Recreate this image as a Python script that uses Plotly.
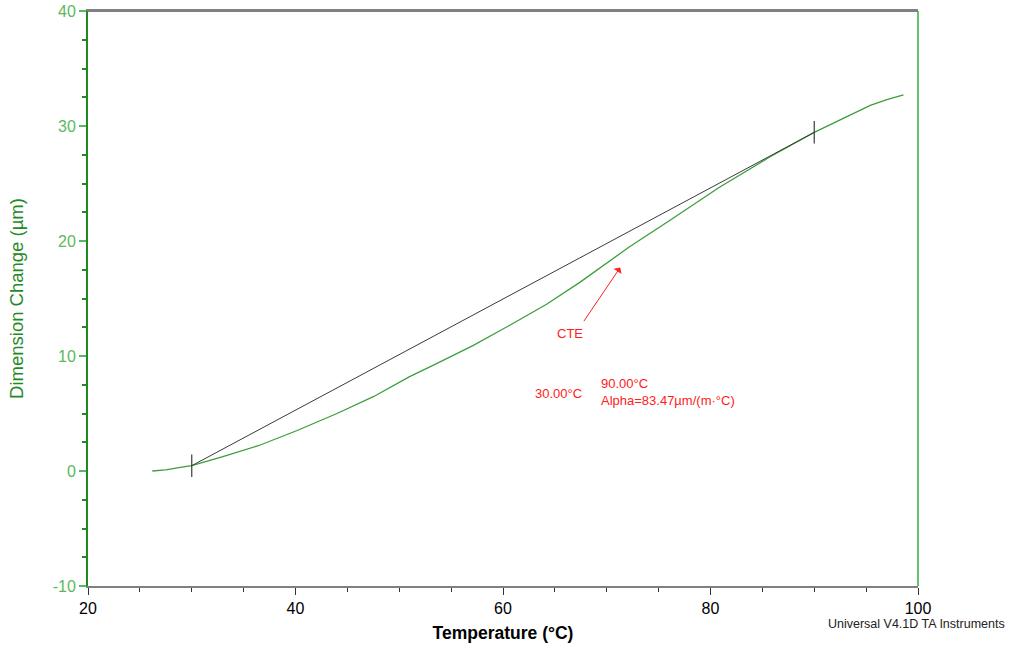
import plotly.graph_objects as go

# Dimension change curve
temp_c = [26.2, 27.5, 28.9, 30.0, 33.0, 36.6, 40.1, 44.0, 47.5, 51.0, 53.3, 57.1,
          60.7, 64.2, 67.4, 70.0, 72.2, 76.1, 80.9, 85.7, 88.9, 90.0, 93.1,
          95.4, 97.0, 98.6]
dim_um = [0.0, 0.1, 0.32, 0.46, 1.24, 2.26, 3.5, 5.0, 6.46, 8.2, 9.2, 10.9,
          12.7, 14.5, 16.4, 18.1, 19.5, 21.8, 24.7, 27.3, 28.9, 29.45, 30.8,
          31.8, 32.3, 32.7]

# CTE tangent between analysis limits
cte_temp = [30.0, 90.0]
cte_dim = [0.46, 29.45]

x_ticks = [20, 40, 60, 80, 100]
y_ticks = [-10, 0, 10, 20, 30, 40]

GREEN_DARK = "#1f8a1f"
GREEN_LABEL = "#5cb85c"
GREEN_RIGHT = "#66c266"
GRAY = "#808080"
FONT = "Liberation Sans, Arial, sans-serif"

W, H = 1012, 645
L, T = 88, 11
plot_w, plot_h = 830, 575
R = W - L - plot_w
B = H - T - plot_h

fig = go.Figure()
fig.add_trace(go.Scatter(x=temp_c, y=dim_um, mode="lines",
                         line=dict(color="#3c9e3c", width=1.3),
                         showlegend=False, hoverinfo="skip"))
fig.add_trace(go.Scatter(x=cte_temp, y=cte_dim, mode="lines+markers",
                         line=dict(color="#3a3a3a", width=1),
                         marker=dict(symbol="line-ns-open", size=16,
                                     line=dict(color="#3a3a3a", width=1.2)),
                         showlegend=False, hoverinfo="skip"))

fig.update_layout(
    width=W, height=H,
    margin=dict(l=L, r=R, t=T, b=B, autoexpand=False),
    paper_bgcolor="white", plot_bgcolor="white",
    font=dict(family=FONT),
    xaxis=dict(range=[20, 100], tickvals=x_ticks, ticktext=[str(v) for v in x_ticks],
               ticks="outside", ticklen=7, tickcolor="#333333", tickwidth=1,
               minor=dict(dtick=5, tick0=20, ticks="outside", ticklen=4, tickcolor="#333333"),
               showline=True, linecolor=GRAY, linewidth=2, mirror=True,
               showgrid=False, zeroline=False, automargin=False,
               tickfont=dict(size=16, color="black", family=FONT),
               title=dict(text="<b>Temperature (°C)</b>", font=dict(size=17.5, color="black", family=FONT),
                          standoff=11)),
    yaxis=dict(range=[-10, 40], tickvals=y_ticks, ticktext=[str(v) for v in y_ticks],
               ticks="outside", ticklen=7, tickcolor=GREEN_LABEL, tickwidth=2,
               minor=dict(dtick=2.5, tick0=0, ticks="outside", ticklen=4, tickcolor=GREEN_DARK),
               showline=True, linecolor=GREEN_DARK, linewidth=2, mirror=False,
               showgrid=False, zeroline=False, automargin=False,
               tickfont=dict(size=16, color=GREEN_LABEL, family=FONT),
               title=dict(text="Dimension Change (µm)", font=dict(size=18.5, color=GREEN_DARK, family=FONT),
                          standoff=24)),
    shapes=[
        dict(type="line", xref="paper", yref="paper", x0=1, x1=1, y0=0, y1=1,
             line=dict(color=GREEN_RIGHT, width=2)),
        dict(type="line", xref="paper", yref="paper", x0=0, x1=1, y0=1, y1=1,
             line=dict(color=GRAY, width=2)),
    ],
    annotations=[
        dict(x=71.3, y=17.7, ax=67.7, ay=12.9, xref="x", yref="y", axref="x", ayref="y",
             text="", showarrow=True, arrowhead=1, arrowsize=1.6, arrowwidth=1,
             arrowcolor="#ff2020"),
        dict(x=66.5, y=12.0, xref="x", yref="y", text="CTE", showarrow=False,
             font=dict(size=13, color="#ff2020", family=FONT)),
        dict(x=62.9, y=6.7, xref="x", yref="y", text="30.00°C", showarrow=False,
             xanchor="left", font=dict(size=13, color="#ff2020", family=FONT)),
        dict(x=69.3, y=6.9, xref="x", yref="y", text="90.00°C<br>Alpha=83.47µm/(m·°C)",
             showarrow=False, xanchor="left", align="left",
             font=dict(size=13, color="#ff2020", family=FONT)),
        dict(x=(1007 - L) / plot_w, y=(H - B - 624) / plot_h, xref="paper", yref="paper",
             text="Universal V4.1D TA Instruments",
             showarrow=False, xanchor="right", yanchor="middle",
             font=dict(size=12.5, color="#222222", family=FONT)),
    ],
)

fig.write_html("out.html", config={"displayModeBar": False},
               post_script="document.body.style.margin='0px';document.body.style.overflow='hidden';")
